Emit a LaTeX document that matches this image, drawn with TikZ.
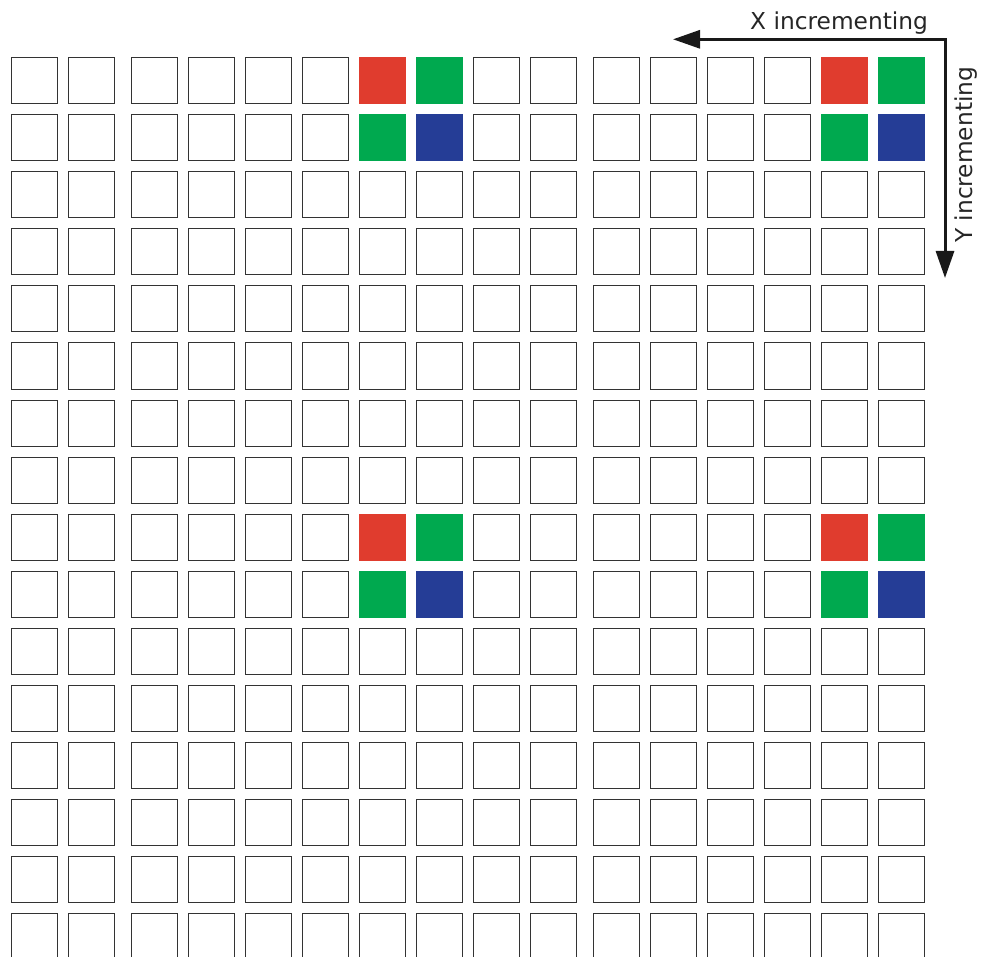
\documentclass[tikz,border=0pt]{standalone}
\usepackage{fontspec}
\setsansfont{DejaVu Sans}
\usetikzlibrary{arrows.meta}

\definecolor{bayerred}{HTML}{E03C2E}
\definecolor{bayergreen}{HTML}{00A94F}
\definecolor{bayerblue}{HTML}{253D96}

\begin{document}
\begin{tikzpicture}[x=1pt, y=-1pt,
  cell/.style={draw=black!80, line width=1pt},
  pix/.style={line width=1pt},
  arr/.style={{Triangle[length=27pt, width=18pt]}-{Triangle[length=27pt, width=18pt]},
              line width=3pt, black!90},
  lbl/.style={font=\sffamily\fontsize{23.3}{24}\selectfont, text=black!85, inner sep=0pt}
]
  \useasboundingbox (0,0) rectangle (982,957);
  \clip (0,0) rectangle (982,957);

  % 16 x 16 sensor cells, wider gap after columns 2 and 10
  \foreach \i in {0,...,15} {
    \pgfmathsetmacro{\cx}{11 + 57*\i + 6*(\i>1) + 6*(\i>9)}
    \foreach \j in {0,...,15} {
      \draw[cell] (\cx, 58+57*\j) rectangle ++(46,46);
    }
  }

  % Bayer quads
  \foreach \px in {359,821} {
    \foreach \py in {58,514} {
      \filldraw[pix, bayerred]   (\px,\py)       rectangle ++(46,46);
      \filldraw[pix, bayergreen] (\px+57,\py)    rectangle ++(46,46);
      \filldraw[pix, bayergreen] (\px,\py+57)    rectangle ++(46,46);
      \filldraw[pix, bayerblue]  (\px+57,\py+57) rectangle ++(46,46);
    }
  }

  % scan direction
  \coordinate (corner) at (945,39.3);
  \coordinate (xend)   at (673,39.3);
  \coordinate (yend)   at (945,278);
  \draw[arr] (xend) -- (corner) -- (yend);

  \node[lbl, anchor=base west] (xlabel) at (750,29.5) {X incrementing};
  \node[lbl, anchor=base west, rotate=90] (ylabel) at (972,243) {Y incrementing};
\end{tikzpicture}
\end{document}
